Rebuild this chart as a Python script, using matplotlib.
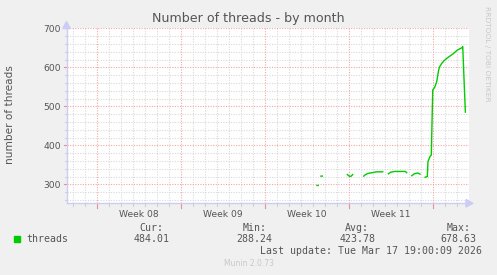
import numpy as np
import matplotlib
matplotlib.use("Agg")
import matplotlib.pyplot as plt
import matplotlib.transforms as mtrans

nan = np.nan
# days since start of Week 08 (Mon)
days = [18.35, 18.45, nan,
        18.68, 18.80, nan,
        20.88, 21.0, 21.1, 21.2, 21.33, nan,
        22.25, 22.35, 22.6, 23.0, 23.3, 23.83, nan,
        24.3, 24.5, 24.85, 25.7, 25.83, nan,
        26.25, 26.47, 26.75, 26.94, nan,
        27.36, 27.55, 27.6, 27.78, 27.88, 28.0, 28.17, 28.33, 28.47, 28.55,
        28.75, 28.94, 29.17, 29.44, 29.72, 30.0, 30.22, 30.42, 30.5, 30.61, 30.72]
threads = [297, 297, nan,
           321, 321, nan,
           325, 322, 320, 321, 325, nan,
           321, 324, 328, 330, 332, 332, nan,
           327, 331, 333, 333, 330, nan,
           322, 327, 329, 326, nan,
           318, 320, 358, 372, 375, 542, 549, 563, 589, 600,
           610, 617, 623, 629, 635, 643, 647, 650, 653, 567, 485]

week_labels = ["Week 08", "Week 09", "Week 10", "Week 11"]
week_starts = [0, 7, 14, 21, 28]
y_labels = [300, 400, 500, 600, 700]

legend_name = "threads"
stat_names = ["Cur:", "Min:", "Avg:", "Max:"]
stat_values = ["484.01", "288.24", "423.78", "678.63"]
last_update = "Last update: Tue Mar 17 19:00:09 2026"

W, H = 497, 275
fig = plt.figure(figsize=(W / 100, H / 100), dpi=100, facecolor="#F0F0F0")
L, R, T, B = 66.5, 468.5, 28.3, 203.3
ax = fig.add_axes([L / W, 1 - B / H, (R - L) / W, (B - T) / H])
ax.set_facecolor("white")
xmin, xmax = -2.52, 30.98
ymin, ymax = 251.3, 700
ax.set_xlim(xmin, xmax)
ax.set_ylim(ymin, ymax)

dot = (0, (1, 1.3))
minor_col = "#d9d9d9"
major_col = "#f0a8a8"
minor_days = [d for d in range(-2, 31) if d not in week_starts]
minor_vals = [v for v in range(260, 701, 20) if v not in y_labels]
for d in minor_days:
    ax.axvline(d, color=minor_col, lw=0.8, ls=dot, zorder=1)
for v in minor_vals:
    ax.axhline(v, color=minor_col, lw=0.8, ls=dot, zorder=1)
for d in week_starts:
    ax.axvline(d, color=major_col, lw=0.8, ls=dot, zorder=1.5)
for v in y_labels:
    ax.axhline(v, color=major_col, lw=0.8, ls=dot, zorder=1.5)

# small tick marks outside the axes
tx = mtrans.blended_transform_factory(ax.transData, ax.transAxes)
ty = mtrans.blended_transform_factory(ax.transAxes, ax.transData)
px_y = 1.0 / (B - T)
px_x = 1.0 / (R - L)
for d in minor_days:
    ax.plot([d, d], [0, -2.5 * px_y], transform=tx, color="#d0d0d0", lw=0.8, clip_on=False)
for d in week_starts:
    ax.plot([d, d], [0, -4.5 * px_y], transform=tx, color="#eb9090", lw=0.8, clip_on=False)
for v in minor_vals:
    ax.plot([0, -2 * px_x], [v, v], transform=ty, color="#d0d0d0", lw=0.8, clip_on=False)
for v in y_labels:
    ax.plot([0, -2.5 * px_x], [v, v], transform=ty, color="#eb9090", lw=0.8, clip_on=False)

ax.plot(days, threads, color="#00CC00", lw=1.0, zorder=3)

for s in ["top", "right"]:
    ax.spines[s].set_visible(False)
for s in ["left", "bottom"]:
    ax.spines[s].set_color("#ccccf4")
    ax.spines[s].set_linewidth(1.0)
    ax.spines[s].set_zorder(4)

ax.set_xticks([w + 3.5 for w in week_starts[:4]])
ax.set_xticklabels(week_labels)
ax.set_yticks(y_labels)
ax.set_yticklabels([str(v) for v in y_labels])
ax.tick_params(axis="both", length=0, labelsize=6.6, colors="#555555", pad=4)
ax.tick_params(axis="x", pad=5)

# arrows at axis ends
fig.patches.append(plt.Polygon([[466 / W, 1 - 199.5 / H], [466 / W, 1 - 207 / H], [473 / W, 1 - 203.3 / H]],
                               closed=True, transform=fig.transFigure, color="#ccccf4"))
fig.patches.append(plt.Polygon([[62.8 / W, 1 - 28.5 / H], [70.2 / W, 1 - 28.5 / H], [66.5 / W, 1 - 21.5 / H]],
                               closed=True, transform=fig.transFigure, color="#ccccf4"))

fig.text(248.5 / W, 1 - 18.5 / H, "Number of threads - by month", ha="center", va="center",
         fontsize=9.1, color="#555555")
fig.text(10 / W, 1 - 115 / H, "number of threads", rotation=90, ha="center", va="center",
         fontsize=7.6, color="#555555")
fig.text(487 / W, 1 - 54 / H, "RRDTOOL / TOBI OETIKER", rotation=270, ha="center", va="center",
         fontsize=5.4, color="#c8c8c8")

mono = "DejaVu Sans Mono"
fig.patches.append(plt.Rectangle((14 / W, 1 - 242.3 / H), 6 / W, 6 / H, transform=fig.transFigure,
                                 color="#00CC00"))
fig.text(26.7 / W, 1 - 239.3 / H, legend_name, family=mono, fontsize=7.1, color="#555555",
         ha="left", va="center")
centers = [151.7, 254.4, 357.1, 458.8]
for cx, n, v in zip(centers, stat_names, stat_values):
    fig.text(cx / W, 1 - 227.7 / H, n, family=mono, fontsize=7.1, color="#555555", ha="center", va="center")
    fig.text(cx / W, 1 - 239.3 / H, v, family=mono, fontsize=7.1, color="#555555", ha="center", va="center")
fig.text(482.3 / W, 1 - 251 / H, last_update, family=mono, fontsize=7.1, color="#555555",
         ha="right", va="center")
fig.text(248.5 / W, 1 - 264 / H, "Munin 2.0.73", fontsize=5.5, color="#c8c8c8", ha="center", va="center")

fig.savefig("out.png", dpi=100, facecolor=fig.get_facecolor())
